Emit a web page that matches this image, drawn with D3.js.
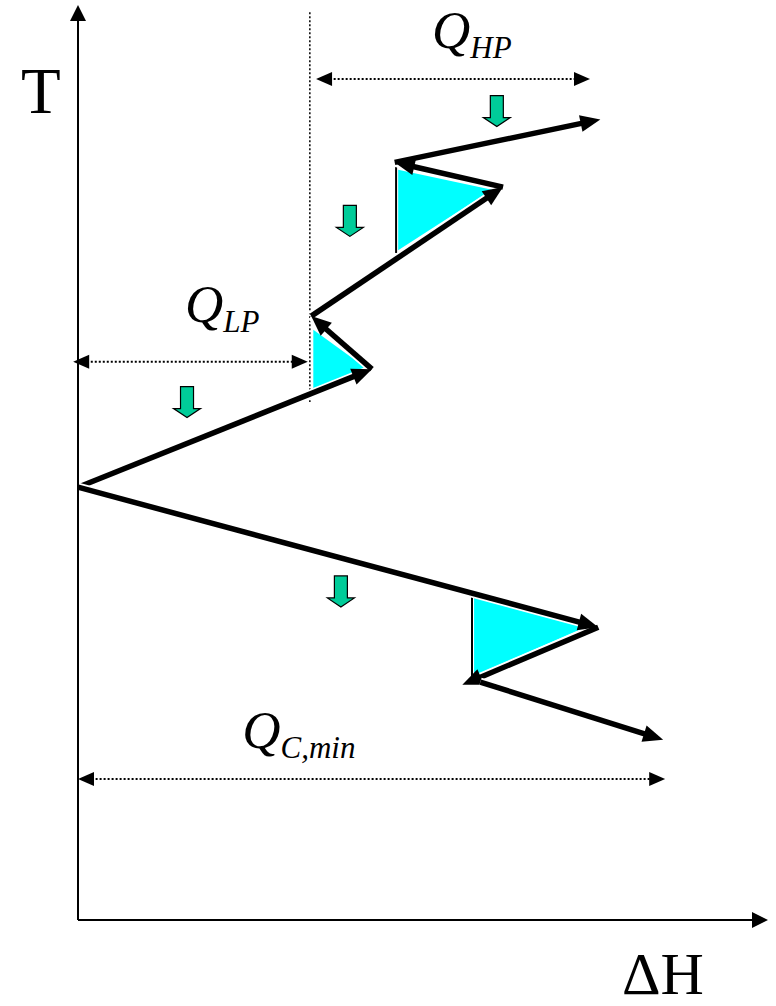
<!DOCTYPE html>
<html>
<head>
<meta charset="utf-8">
<script src="https://cdn.jsdelivr.net/npm/d3@7"></script>
<style>
  body { margin: 0; background: #fff; }
  text { font-family: "Liberation Serif", "Times New Roman", serif; fill: #000; }
</style>
</head>
<body>
<svg id="chart" width="776" height="1006"></svg>
<script>
// Grand composite curve sketch, in arbitrary units: ΔH 0–100 (x), T 0–100 (y)

// ─── Data ────────────────────────────────────────────────────────────────────

const upperBranch = [[0, 47.3], [42.6, 60.2], [33.8, 66.0], [61.6, 80.1], [45.9, 82.8], [75.7, 87.5]];
const lowerBranch = [[0, 47.3], [75.4, 32.0], [55.7, 25.7]];
const lowerTail   = [[58.3, 26.0], [84.8, 19.7]];

// heat pockets (cyan)
const pockets = [
  [[46.4, 82.0], [46.4, 73.2], [60.0, 79.8]],
  [[34.1, 64.5], [34.1, 58.1], [42.0, 60.2]],
  [[57.4, 35.4], [57.4, 26.7], [73.5, 32.0]]
];
const pocketEdges = [
  [[46.1, 82.5], [46.1, 72.9]],
  [[57.1, 35.6], [57.1, 26.2]]
];

const pinchLine = [[33.6, 99.2], [33.6, 56.6]];

const dutyArrows = [
  { main: 'Q', sub: 'HP',    y: 91.9, x0: 34.5, x1: 74.2, lx: 51.3, ly: 95.3 },
  { main: 'Q', sub: 'LP',    y: 61.0, x0: -0.7, x1: 33.3, lx: 15.5, ly: 65.4 },
  { main: 'Q', sub: 'C,min', y: 15.4, x0: 0.0,  x1: 85.1, lx: 23.8, ly: 18.8 }
];

// heat-flow arrows (top centre of each)
const downArrows = [[60.7, 90.1], [39.4, 78.1], [15.8, 58.3], [38.1, 37.6]];

// ─── Scales ──────────────────────────────────────────────────────────────────

const svg = d3.select('#chart');
const x = d3.scaleLinear().domain([0, 100]).range([78, 768]);
const y = d3.scaleLinear().domain([0, 100]).range([920, 5]);

const px = p => [x(p[0]), y(p[1])];

// filled triangular head at b, pointing along a→b; returns shortened end point
function arrowHead(g, a, b, len, half) {
  const dx = b[0] - a[0], dy = b[1] - a[1];
  const L = Math.hypot(dx, dy), ux = dx / L, uy = dy / L;
  const bx = b[0] - ux * len, by = b[1] - uy * len;
  g.append('path')
    .attr('d', `M${b[0]},${b[1]}L${bx - uy * half},${by + ux * half}L${bx + uy * half},${by - ux * half}Z`)
    .attr('fill', '#000');
  return [b[0] - ux * len * 0.6, b[1] - uy * len * 0.6];
}

const line = d3.line();

// ─── Pockets ─────────────────────────────────────────────────────────────────

svg.append('g').selectAll('path')
  .data(pockets)
  .join('path')
  .attr('d', d => line(d.map(px)) + 'Z')
  .attr('fill', '#00ffff');

svg.append('g').selectAll('path')
  .data(pocketEdges)
  .join('path')
  .attr('d', d => line(d.map(px)))
  .attr('stroke', '#000')
  .attr('stroke-width', 2);

// ─── Pinch line + duty arrows ────────────────────────────────────────────────

svg.append('path')
  .attr('d', line(pinchLine.map(px)))
  .attr('stroke', '#000')
  .attr('stroke-width', 1.5)
  .attr('stroke-dasharray', '2,2');

const duty = svg.append('g');
dutyArrows.forEach(d => {
  const a = [x(d.x0), y(d.y)], b = [x(d.x1), y(d.y)];
  const e1 = arrowHead(duty, a, b, 16, 7);
  const e0 = arrowHead(duty, b, a, 16, 7);
  duty.append('path')
    .attr('d', line([e0, e1]))
    .attr('stroke', '#000')
    .attr('stroke-width', 2)
    .attr('stroke-dasharray', '2,2');

  const t = duty.append('text')
    .attr('x', x(d.lx))
    .attr('y', y(d.ly))
    .style('font-style', 'italic')
    .style('font-size', '53px')
    .text(d.main);
  t.append('tspan')
    .attr('dy', 10)
    .style('font-size', '31px')
    .text(d.sub);
});

// ─── Curve ───────────────────────────────────────────────────────────────────

const curve = svg.append('g');
function drawSegments(points) {
  for (let i = 1; i < points.length; i++) {
    const a = px(points[i - 1]), b = px(points[i]);
    curve.append('path')
      .attr('d', line([a, b]))
      .attr('stroke', '#fff')
      .attr('stroke-width', 9);
  }
  for (let i = 1; i < points.length; i++) {
    const a = px(points[i - 1]), b = px(points[i]);
    const e = arrowHead(curve, a, b, 20, 8.5);
    curve.append('path')
      .attr('d', line([a, e]))
      .attr('stroke', '#000')
      .attr('stroke-width', 5.5);
  }
}
drawSegments(upperBranch);
drawSegments(lowerBranch);
drawSegments(lowerTail);

// ─── Heat-flow arrows ────────────────────────────────────────────────────────

svg.append('g').selectAll('path')
  .data(downArrows)
  .join('path')
  .attr('d', d => {
    const cx = x(d[0]), ty = y(d[1]);
    return `M${cx - 6.5},${ty}H${cx + 6.5}V${ty + 22}H${cx + 13.5}L${cx},${ty + 31}L${cx - 13.5},${ty + 22}H${cx - 6.5}Z`;
  })
  .attr('fill', '#00cc99')
  .attr('stroke', '#000')
  .attr('stroke-width', 1.2);

// ─── Axes ────────────────────────────────────────────────────────────────────

const axes = svg.append('g');
const origin = [x(0), y(0)];
const eY = arrowHead(axes, origin, [x(0), y(100)], 16, 8);
const eX = arrowHead(axes, origin, [x(100), y(0)], 16, 8);
axes.append('path').attr('d', line([origin, eY])).attr('stroke', '#000').attr('stroke-width', 2);
axes.append('path').attr('d', line([origin, eX])).attr('stroke', '#000').attr('stroke-width', 2);

axes.append('text')
  .attr('x', 21).attr('y', 113)
  .style('font-size', '65px')
  .text('T');
axes.append('text')
  .attr('x', 622).attr('y', 994)
  .style('font-size', '60px')
  .text('ΔH');
</script>
</body>
</html>
